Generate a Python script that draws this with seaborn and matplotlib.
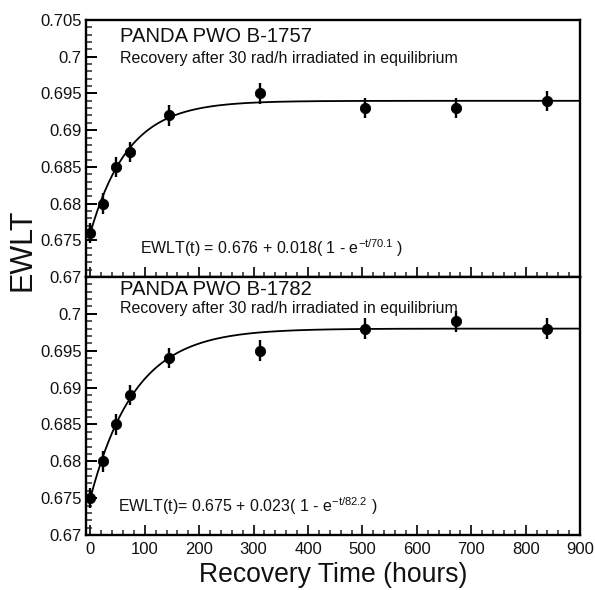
import numpy as np
import pandas as pd
import matplotlib
matplotlib.use("Agg")
import matplotlib.pyplot as plt
from matplotlib.ticker import MultipleLocator, FuncFormatter
import seaborn as sns

# Recovery measurement times (hours)
hours = [0, 24, 48, 72, 144, 312, 504, 672, 840]

# EWLT values for the two crystals
ewlt_1757 = [0.676, 0.680, 0.685, 0.687, 0.692, 0.695, 0.693, 0.693, 0.694]
ewlt_1782 = [0.675, 0.680, 0.685, 0.689, 0.694, 0.695, 0.698, 0.699, 0.698]
ewlt_err = 0.0014

# Exponential recovery fit parameters: a + b (1 - exp(-t / tau))
fit_1757 = (0.676, 0.018, 70.1)
fit_1782 = (0.675, 0.023, 82.2)

titles = ["PANDA PWO B-1757", "PANDA PWO B-1782"]
subtitle = "Recovery after 30 rad/h irradiated in equilibrium"
equations = [
    r"EWLT(t) = 0.676 + 0.018( 1 - e$^{-t/70.1}$ )",
    r"EWLT(t)= 0.675 + 0.023( 1 - e$^{-t/82.2}$ )",
]

sns.set_theme(style="white")
plt.rcParams["font.family"] = ["Liberation Sans", "DejaVu Sans"]
plt.rcParams["mathtext.default"] = "regular"

ink = "#111111"

fig = plt.figure(figsize=(5.95, 5.9), dpi=100)
ax_top = fig.add_axes([0.1445, 0.5305, 0.8305, 0.4355])
ax_bot = fig.add_axes([0.1445, 0.0932, 0.8305, 0.4373], sharex=ax_top)

panels = [
    (ax_top, ewlt_1757, fit_1757, titles[0], equations[0], (0.7020, 0.6991, 91, 0.6731)),
    (ax_bot, ewlt_1782, fit_1782, titles[1], equations[1], (0.70257, 0.7001, 50, 0.6731)),
]

t_fit = np.linspace(0, 900, 400)
for ax, vals, fit, title, eq, pos in panels:
    a, b, tau = fit
    curve = pd.DataFrame({"t": t_fit, "y": a + b * (1 - np.exp(-t_fit / tau))})
    sns.lineplot(data=curve, x="t", y="y", ax=ax, color="black", linewidth=1.3)
    ax.errorbar(hours, vals, yerr=ewlt_err, fmt="none", ecolor="black",
                elinewidth=1.7, capsize=0, zorder=3)
    pts = pd.DataFrame({"t": hours, "y": vals})
    sns.scatterplot(data=pts, x="t", y="y", ax=ax, color="black", s=55,
                    edgecolor="black", zorder=4)

    ax.set_xlim(-8, 900)
    ax.set_ylim(0.67, 0.705)
    ax.set_xlabel("")
    ax.set_ylabel("")
    ax.xaxis.set_major_locator(MultipleLocator(100))
    ax.xaxis.set_minor_locator(MultipleLocator(20))
    ax.yaxis.set_major_locator(MultipleLocator(0.005))
    ax.yaxis.set_minor_locator(MultipleLocator(0.001))
    ax.yaxis.set_major_formatter(FuncFormatter(
        lambda v, p: ("%.3f" % v).rstrip("0")))
    ax.tick_params(axis="y", which="major", direction="in", length=8,
                   width=1.4, left=True, labelsize=12, pad=3,
                   colors="black", labelcolor=ink)
    ax.tick_params(axis="y", which="minor", direction="in", length=4,
                   width=1.1, left=True)
    ax.tick_params(axis="x", which="major", direction="in", length=7,
                   width=1.4, bottom=True, labelsize=12, pad=5,
                   labelcolor=ink)
    ax.tick_params(axis="x", which="minor", direction="in", length=3.5,
                   width=1.1, bottom=True)
    for sp in ax.spines.values():
        sp.set_visible(True)
        sp.set_color("black")
        sp.set_linewidth(1.7)

    y_title, y_sub, x_eq, y_eq = pos
    ax.text(54, y_title, title, fontsize=14.6, color=ink, va="baseline")
    ax.text(54, y_sub, subtitle, fontsize=11.5, color=ink, va="baseline")
    ax.text(x_eq, y_eq, eq, fontsize=11.5, color=ink, va="baseline")

ax_top.tick_params(axis="x", labelbottom=False)
ax_bot.set_yticks([0.67, 0.675, 0.68, 0.685, 0.69, 0.695, 0.7])
ax_bot.set_ylim(0.67, 0.705)

fig.text(0.037, 0.576, "EWLT", rotation=90, fontsize=22, ha="center",
         va="center", color=ink)
fig.text(0.5605, 0.025, "Recovery Time (hours)", fontsize=19.1, ha="center",
         va="center", color=ink)

fig.savefig("out.png", dpi=100)
